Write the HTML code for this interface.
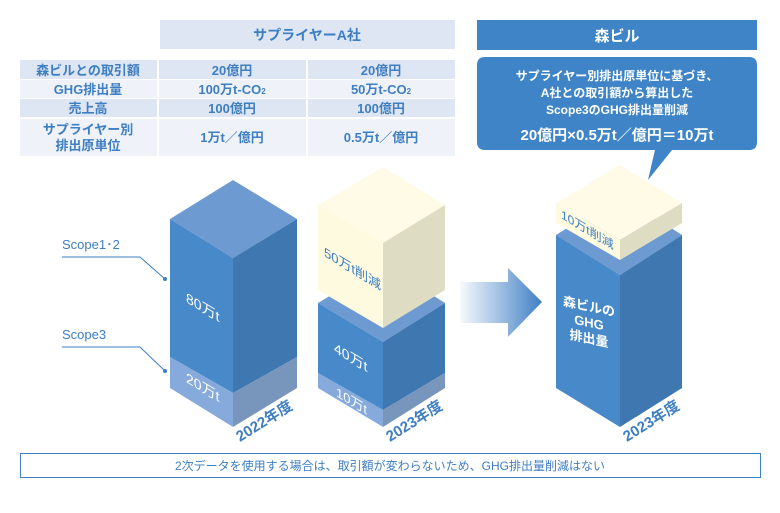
<!DOCTYPE html>
<html><head><meta charset="utf-8"><style>
body{margin:0;background:#fff;}
svg{display:block;font-family:"Liberation Sans","Noto Sans CJK JP",sans-serif;}
</style></head><body>
<svg width="780" height="513" viewBox="0 0 780 513">
<defs>
<linearGradient id="ag" x1="0" x2="1" y1="0" y2="0">
<stop offset="0" stop-color="#4a86c8" stop-opacity="0.05"/>
<stop offset="1" stop-color="#3f7fc4"/>
</linearGradient>
</defs>
<rect x="160" y="20" width="295" height="29" fill="#dfe6f3"/>
<text x="307" y="40" font-size="14" font-weight="bold" fill="#3e7ec2" text-anchor="middle">サプライヤーA社</text>
<rect x="477" y="20" width="280" height="30" fill="#3e84c6"/>
<text x="617" y="41" font-size="15" font-weight="bold" fill="#fff" text-anchor="middle">森ビル</text>
<g font-size="13" font-weight="bold" fill="#3e7ec2" text-anchor="middle">
<rect x="20" y="60" width="137" height="19" fill="#dfe6f3"/><rect x="159" y="60" width="147" height="19" fill="#dfe6f3"/><rect x="308" y="60" width="147" height="19" fill="#dfe6f3"/>
<rect x="20" y="80" width="137" height="18" fill="#eff2f9"/><rect x="159" y="80" width="147" height="18" fill="#eff2f9"/><rect x="308" y="80" width="147" height="18" fill="#eff2f9"/>
<rect x="20" y="99" width="137" height="18" fill="#dfe6f3"/><rect x="159" y="99" width="147" height="18" fill="#dfe6f3"/><rect x="308" y="99" width="147" height="18" fill="#dfe6f3"/>
<rect x="20" y="119" width="137" height="37" fill="#eff2f9"/><rect x="159" y="119" width="147" height="37" fill="#eff2f9"/><rect x="308" y="119" width="147" height="37" fill="#eff2f9"/>
<text x="88" y="75">森ビルとの取引額</text><text x="232" y="75">20億円</text><text x="381" y="75">20億円</text>
<text x="88" y="94">GHG排出量</text><text x="232" y="94">100万t-CO<tspan font-size="8">2</tspan></text><text x="381" y="94">50万t-CO<tspan font-size="8">2</tspan></text>
<text x="88" y="113">売上高</text><text x="232" y="113">100億円</text><text x="381" y="113">100億円</text>
<text x="88" y="134">サプライヤー別</text><text x="88" y="150">排出原単位</text>
<text x="232" y="142">1万t／億円</text><text x="381" y="142">0.5万t／億円</text>
</g>
<path d="M485 57 H749 Q757 57 757 65 V142 Q757 150 749 150 H672 L648 180 L655 150 H485 Q477 150 477 142 V65 Q477 57 485 57 Z" fill="#3e84c6"/>
<g fill="#fff" text-anchor="middle" font-weight="bold">
<text x="617" y="80" font-size="12">サプライヤー別排出原単位に基づき、</text>
<text x="617" y="97" font-size="12">A社との取引額から算出した</text>
<text x="617" y="114" font-size="12">Scope3のGHG排出量削減</text>
<text x="617" y="140" font-size="15">20億円×0.5万t／億円＝10万t</text>
</g>
<polygon points="233,180 297,219 233,258 170,219" fill="#6d9bd1"/>
<polygon points="170,219 233,258 233,393 170,357" fill="#4789c9"/>
<polygon points="233,258 297,219 297,357 233,393" fill="#3f78b0"/>
<polygon points="170,357 233,393 233,427 170,388" fill="#86aadc"/>
<polygon points="233,393 297,357 297,388 233,427" fill="#7896bb"/>
<text transform="translate(186,302) skewY(31)" font-size="14" fill="#fff">80万t</text>
<text transform="translate(186,382) skewY(31)" font-size="14" fill="#fff">20万t</text>
<text transform="translate(240,442) rotate(-32)" font-size="15" font-weight="bold" fill="#3e7ec2">2022年度</text>
<polygon points="383,264 445,303 383,342 318,303" fill="#6d9bd1"/>
<polygon points="318,303 383,342 383,410 318,373" fill="#4789c9"/>
<polygon points="383,342 445,303 445,373 383,410" fill="#3f78b0"/>
<polygon points="318,373 383,410 383,427 318,388" fill="#86aadc"/>
<polygon points="383,410 445,373 445,388 383,427" fill="#7896bb"/>
<polygon points="383,167 445,205 383,243 318,205" fill="#fffbe6"/>
<polygon points="318,205 383,243 383,328 318,290" fill="#fdfadf"/>
<polygon points="383,243 445,205 445,290 383,328" fill="#deddc4"/>
<text transform="translate(324,256) skewY(31)" font-size="13" fill="#3e7ec2">50万t削減</text>
<text transform="translate(334,352) skewY(31)" font-size="14" fill="#fff">40万t</text>
<text transform="translate(336,396) skewY(31)" font-size="13" fill="#fff">10万t</text>
<text transform="translate(390,442) rotate(-32)" font-size="15" font-weight="bold" fill="#3e7ec2">2023年度</text>
<polygon points="460,282 508,282 508,268 542,302 508,337 508,323 460,323" fill="url(#ag)"/>
<polygon points="620,195 682,235 620,275 556,235" fill="#6d9bd1"/>
<polygon points="556,235 620,275 620,427 556,388" fill="#4789c9"/>
<polygon points="620,275 682,235 682,388 620,427" fill="#3f78b0"/>
<polygon points="620,165 682,203 620,240 556,203" fill="#fffbe6"/>
<polygon points="556,203 620,240 620,260 556,223" fill="#fdfadf"/>
<polygon points="620,240 682,203 682,223 620,260" fill="#deddc4"/>
<text transform="translate(561,218) skewY(31)" font-size="12" fill="#3e7ec2">10万t削減</text>
<g fill="#fff" font-size="13" font-weight="bold" text-anchor="middle">
<text transform="translate(589,311) skewY(12)">森ビルの</text>
<text transform="translate(589,327) skewY(12)">GHG</text>
<text transform="translate(589,343) skewY(12)">排出量</text>
</g>
<text transform="translate(627,442) rotate(-32)" font-size="15" font-weight="bold" fill="#3e7ec2">2023年度</text>
<text x="62" y="249" font-size="13" fill="#3e7ec2">Scope1･2</text>
<polyline points="62,257 140,257 165,279" fill="none" stroke="#3e7ec2" stroke-width="1"/>
<circle cx="165" cy="279" r="2" fill="#3e7ec2"/>
<text x="62" y="339" font-size="13" fill="#3e7ec2">Scope3</text>
<polyline points="62,347 140,347 165,371" fill="none" stroke="#3e7ec2" stroke-width="1"/>
<circle cx="165" cy="371" r="2" fill="#3e7ec2"/>
<rect x="20.5" y="453.5" width="740" height="24" fill="#fff" stroke="#3e7ec2" stroke-width="1"/>
<text x="390" y="470" font-size="12" fill="#3e7ec2" text-anchor="middle">2次データを使用する場合は、取引額が変わらないため、GHG排出量削減はない</text>
</svg>
</body></html>
